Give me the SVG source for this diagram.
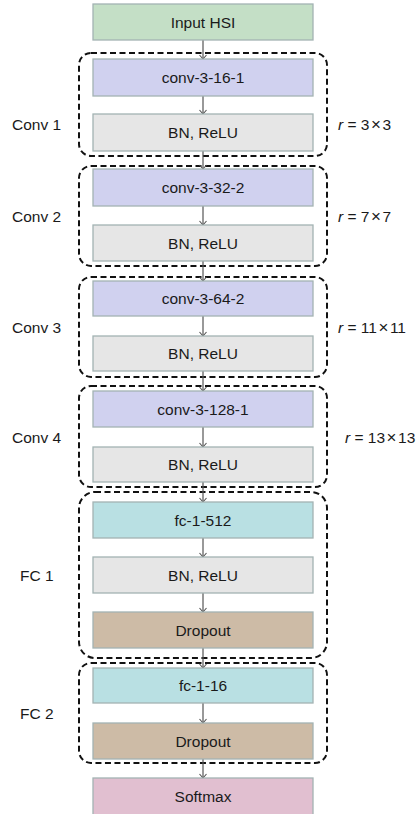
<svg xmlns="http://www.w3.org/2000/svg" width="420" height="814" viewBox="0 0 420 814">
<defs>
<style>
text{font-family:"Liberation Sans",Arial,sans-serif;font-size:15.5px;fill:#1a1a1a}
.n text{text-anchor:middle}
.box{stroke:#a3b3b3;stroke-width:1.3}
.in{fill:#c4dfc6}.cv{fill:#d0d1ef}.bn{fill:#e6e6e6}.fc{fill:#b9e0e3}.dr{fill:#cdbba6}.sm{fill:#e1bfd0}
.grp{fill:none;stroke:#111;stroke-width:2;stroke-dasharray:6 3.5}
.c line{stroke:#555;stroke-width:1.2;marker-end:url(#ah)}
.x{font-size:17px}
</style>
<marker id="ah" markerWidth="10" markerHeight="10" refX="5" refY="5" orient="auto" markerUnits="userSpaceOnUse">
<path d="M1,1.5 L5,5 L1,8.5" fill="none" stroke="#555" stroke-width="1.1"/>
</marker>
</defs>
<rect width="420" height="814" fill="#fff"/>
<g id="groups">
<rect class="grp" x="79" y="53" width="248" height="103" rx="12"/>
<rect class="grp" x="79" y="166" width="248" height="100" rx="12"/>
<rect class="grp" x="79" y="277" width="248" height="100" rx="12"/>
<rect class="grp" x="79" y="386" width="248" height="101" rx="12"/>
<rect class="grp" x="79" y="492" width="248" height="166" rx="16"/>
<rect class="grp" x="79" y="663" width="248" height="100" rx="12"/>
</g>
<g class="c" id="connectors">
<line x1="203" y1="40" x2="203" y2="59"/>
<line x1="203" y1="96" x2="203" y2="114"/>
<line x1="203" y1="151" x2="203" y2="169"/>
<line x1="203" y1="206" x2="203" y2="225"/>
<line x1="203" y1="261" x2="203" y2="281"/>
<line x1="203" y1="316" x2="203" y2="336"/>
<line x1="203" y1="371" x2="203" y2="391"/>
<line x1="203" y1="427" x2="203" y2="447"/>
<line x1="203" y1="482" x2="203" y2="502"/>
<line x1="203" y1="538" x2="203" y2="557"/>
<line x1="203" y1="593" x2="203" y2="612"/>
<line x1="203" y1="648" x2="203" y2="668"/>
<line x1="203" y1="703" x2="203" y2="723"/>
<line x1="203" y1="759" x2="203" y2="778"/>
</g>
<g class="n" id="input"><rect class="box in" x="93" y="4" width="220" height="36"/><text x="203" y="28">Input HSI</text></g>
<g class="n" id="conv1a"><rect class="box cv" x="93" y="59" width="220" height="37"/><text x="203" y="83">conv-3-16-1</text></g>
<g class="n" id="conv1b"><rect class="box bn" x="93" y="114" width="220" height="37"/><text x="203" y="138">BN, ReLU</text></g>
<g class="n" id="conv2a"><rect class="box cv" x="93" y="169" width="220" height="37"/><text x="203" y="193">conv-3-32-2</text></g>
<g class="n" id="conv2b"><rect class="box bn" x="93" y="225" width="220" height="36"/><text x="203" y="249">BN, ReLU</text></g>
<g class="n" id="conv3a"><rect class="box cv" x="93" y="281" width="220" height="35"/><text x="203" y="304">conv-3-64-2</text></g>
<g class="n" id="conv3b"><rect class="box bn" x="93" y="336" width="220" height="35"/><text x="203" y="359">BN, ReLU</text></g>
<g class="n" id="conv4a"><rect class="box cv" x="93" y="391" width="220" height="36"/><text x="203" y="415">conv-3-128-1</text></g>
<g class="n" id="conv4b"><rect class="box bn" x="93" y="447" width="220" height="35"/><text x="203" y="470">BN, ReLU</text></g>
<g class="n" id="fc1a"><rect class="box fc" x="93" y="502" width="220" height="36"/><text x="203" y="526">fc-1-512</text></g>
<g class="n" id="fc1b"><rect class="box bn" x="93" y="557" width="220" height="36"/><text x="203" y="581">BN, ReLU</text></g>
<g class="n" id="fc1c"><rect class="box dr" x="93" y="612" width="220" height="36"/><text x="203" y="636">Dropout</text></g>
<g class="n" id="fc2a"><rect class="box fc" x="93" y="668" width="220" height="35"/><text x="203" y="691">fc-1-16</text></g>
<g class="n" id="fc2b"><rect class="box dr" x="93" y="723" width="220" height="36"/><text x="203" y="747">Dropout</text></g>
<g class="n" id="softmax"><rect class="box sm" x="93" y="778" width="220" height="40"/><text x="203" y="802">Softmax</text></g>
<g id="labels">
<text x="12" y="130">Conv 1</text>
<text x="12" y="222">Conv 2</text>
<text x="12" y="333">Conv 3</text>
<text x="12" y="443">Conv 4</text>
<text x="20" y="581">FC 1</text>
<text x="20" y="719">FC 2</text>
<text x="338" y="130"><tspan font-style="italic">r</tspan> = 3<tspan class="x" dx="1.5">×</tspan><tspan dx="1.5">3</tspan></text>
<text x="338" y="222"><tspan font-style="italic">r</tspan> = 7<tspan class="x" dx="1.5">×</tspan><tspan dx="1.5">7</tspan></text>
<text x="338" y="333"><tspan font-style="italic">r</tspan> = 11<tspan class="x" dx="1.5">×</tspan><tspan dx="1.5">11</tspan></text>
<text x="345" y="443"><tspan font-style="italic">r</tspan> = 13<tspan class="x" dx="1.5">×</tspan><tspan dx="1.5">13</tspan></text>
</g>
</svg>
